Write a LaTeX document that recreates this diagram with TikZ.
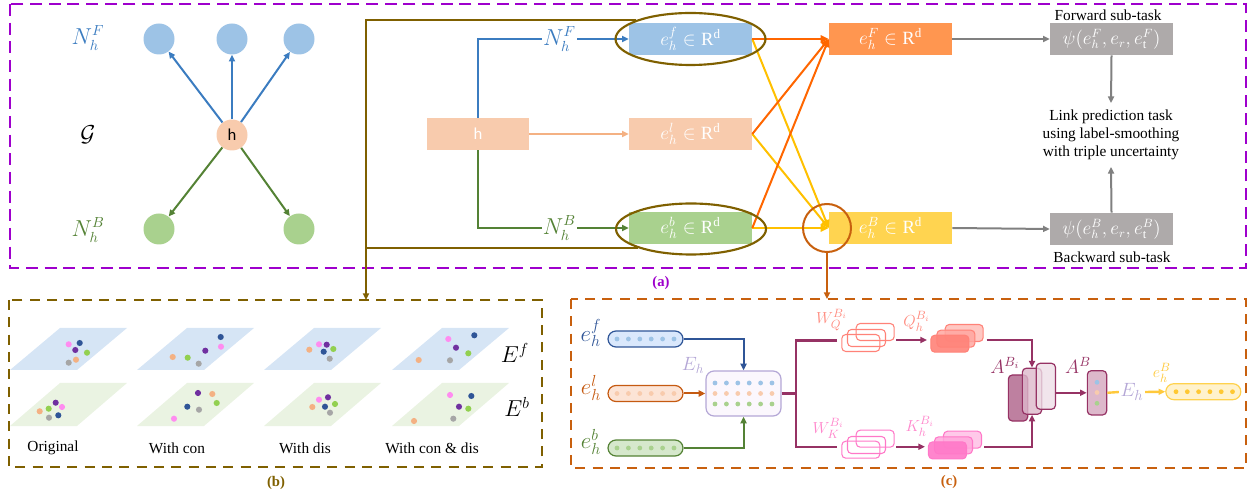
\documentclass[tikz,border=0pt]{standalone}
\usepackage{fontspec}
\setmainfont{Liberation Serif}
\newfontfamily\calib{Carlito}
\usetikzlibrary{arrows.meta,shapes.geometric}
\definecolor{purp}{RGB}{158,0,204}
\definecolor{brownD}{RGB}{127,96,0}
\definecolor{orgD}{RGB}{200,96,14}
\definecolor{blueA}{RGB}{59,124,192}
\definecolor{greenA}{RGB}{84,130,53}
\definecolor{cBlueL}{RGB}{157,195,230}
\definecolor{cGreenL}{RGB}{169,209,142}
\definecolor{cPeach}{RGB}{248,203,173}
\definecolor{peachA}{RGB}{244,177,131}
\definecolor{eFc}{RGB}{255,150,80}
\definecolor{eBc}{RGB}{255,212,80}
\definecolor{psic}{RGB}{174,170,170}
\definecolor{grayA}{RGB}{128,128,128}
\definecolor{orgL}{RGB}{255,102,0}
\definecolor{yelL}{RGB}{255,192,0}
\definecolor{planeF}{RGB}{214,229,245}
\definecolor{planeB}{RGB}{234,243,226}
\definecolor{pk}{RGB}{255,140,240}
\definecolor{db}{RGB}{47,85,151}
\definecolor{pu}{RGB}{112,48,160}
\definecolor{gn}{RGB}{146,208,80}
\definecolor{pe}{RGB}{244,177,131}
\definecolor{gy}{RGB}{166,166,166}
\definecolor{dBlue}{RGB}{47,85,151}
\definecolor{dOrg}{RGB}{197,90,17}
\definecolor{pBlue}{RGB}{218,232,252}
\definecolor{pOrg}{RGB}{252,228,214}
\definecolor{pGreen}{RGB}{214,232,204}
\definecolor{lav}{RGB}{180,167,214}
\definecolor{lavF}{RGB}{251,247,253}
\definecolor{plum}{RGB}{150,50,100}
\definecolor{salm}{RGB}{255,130,120}
\definecolor{salmL}{RGB}{255,140,128}
\definecolor{pinkK}{RGB}{255,120,200}
\definecolor{pinkL}{RGB}{255,136,204}
\definecolor{aDark}{RGB}{190,128,160}
\definecolor{aMid}{RGB}{221,184,203}
\definecolor{aLight}{RGB}{238,223,231}
\definecolor{yelT}{RGB}{255,201,60}
\definecolor{yelF}{RGB}{255,242,204}
\definecolor{yelB}{RGB}{255,210,77}
\definecolor{yelD}{RGB}{255,200,50}
\begin{document}
\begin{tikzpicture}[x=0.75pt,y=-0.75pt,
  arr/.style={-{Triangle[length=5pt,width=4.5pt]}},
  arrb/.style={-{Triangle[length=6pt,width=5.5pt]}},
  circ/.style={circle,minimum size=23.25pt,inner sep=0pt},
  ebox/.style={minimum width=92.25pt,minimum height=24pt,inner sep=0pt,text=white,font=\fontsize{14}{16}\selectfont},
  serif/.style={font=\fontsize{11.5}{13.5}\selectfont},
  pill/.style={rounded corners=6pt,minimum width=56.25pt,minimum height=12pt,inner sep=0pt,line width=0.9pt},
  wr/.style={rounded corners=3pt,minimum width=28.5pt,minimum height=12.75pt,inner sep=0pt,line width=0.8pt},
  ar/.style={rounded corners=3pt,minimum width=14.5pt,minimum height=34.5pt,inner sep=0pt,line width=0.9pt,draw=plum},
  mlab/.style={inner sep=1pt,font=\fontsize{16}{18}\selectfont},
  clab/.style={inner sep=1pt,font=\fontsize{13}{15}\selectfont},
]
\useasboundingbox (0,0) rectangle (1255,498);

% ---------- (a) frame ----------
\draw[purp,line width=2pt,dash pattern=on 9pt off 5pt] (10,4) rectangle (1246,268);
\node[text=purp,font=\bfseries\fontsize{11}{13}\selectfont] (la) at (661,283) {(a)};

% ---------- left graph ----------
\node[circ,fill=cBlueL] (f1) at (159,39) {};
\node[circ,fill=cBlueL] (f2) at (232,39) {};
\node[circ,fill=cBlueL] (f3) at (299,39) {};
\node[circ,fill=cGreenL] (b1) at (159,229) {};
\node[circ,fill=cGreenL] (b2) at (299,229) {};
\node[circ,fill=cPeach,font=\calib\fontsize{12.5}{14}\selectfont] (hc) at (232,135) {h};
\foreach \t in {f1,f2,f3} \draw[blueA,line width=1.5pt,arr] (hc) -- (\t);
\foreach \t in {b1,b2} \draw[greenA,line width=1.5pt,arr] (hc) -- (\t);
\node[mlab,text=blueA] (lNF) at (88,38) {$N_h^F$};
\node[mlab] (lG) at (88,135) {$\mathcal{G}$};
\node[mlab,text=greenA] (lNB) at (88,230) {$N_h^B$};

% ---------- middle ----------
\node[minimum width=76.5pt,minimum height=24pt,inner sep=0pt,fill=cPeach,text=white,font=\calib\fontsize{12.5}{14}\selectfont] (hb) at (478,134) {h};
\node[ebox,fill=cBlueL] (ef) at (690.5,39) {$e_h^f\in\mathrm{R}^{\mathrm{d}}$};
\node[ebox,fill=cPeach] (el) at (690.5,134) {$e_h^l\in\mathrm{R}^{\mathrm{d}}$};
\node[ebox,fill=cGreenL] (eb) at (690.5,228) {$e_h^b\in\mathrm{R}^{\mathrm{d}}$};
\draw[blueA,line width=1.5pt,arr] (hb.north) |- node[pos=0.77,fill=white,text=blueA,mlab] (mNF) {$N_h^F$} (ef.west);
\draw[greenA,line width=1.5pt,arr] (hb.south) |- node[pos=0.77,fill=white,text=greenA,mlab] (mNB) {$N_h^B$} (eb.west);
\draw[peachA,line width=1.5pt,arr] (hb.east) -- (el.west);

% ---------- right ----------
\node[ebox,fill=eFc] (eF) at (890.5,39) {$e_h^F\in\mathrm{R}^{\mathrm{d}}$};
\node[ebox,fill=eBc] (eB) at (890.5,228) {$e_h^B\in\mathrm{R}^{\mathrm{d}}$};
\foreach \s in {ef,el,eb} \draw[yelL,line width=1.5pt,arrb] (\s.east) -- (eB.west);
\foreach \s in {ef,el,eb} \draw[orgL,line width=1.5pt,arrb] (\s.east) -- (eF.west);

\node[ebox,fill=psic,font=\fontsize{13.5}{15}\selectfont] (psiF) at (1111.5,39) {$\psi(e_h^F,e_r,e_{\mathrm{t}}^F)$};
\node[ebox,fill=psic,font=\fontsize{13.5}{15}\selectfont] (psiB) at (1111.5,229) {$\psi(e_h^B,e_r,e_{\mathrm{t}}^B)$};
\draw[grayA,line width=1.5pt,arr] (eF.east) -- (psiF.west);
\draw[grayA,line width=1.5pt,arr] (eB.east) -- (psiB.west);
\node[serif,align=center,inner xsep=1pt,inner ysep=5pt] (lp) at (1111,135) {Link prediction task\\using label-smoothing\\with triple uncertainty};
\draw[grayA,line width=1.5pt,arr] (psiF.south) -- (lp.north);
\draw[grayA,line width=1.5pt,arr] (psiB.north) -- (lp.south);
\node[serif,inner sep=1pt] (fw) at (1108,15) {Forward sub-task};
\node[serif,inner sep=1pt] (bw) at (1112,257) {Backward sub-task};

% ellipses and brown frame
\node[ellipse,draw=brownD,line width=1.6pt,minimum width=112.5pt,minimum height=39pt,inner sep=0pt] (ellF) at (690.5,39) {};
\node[ellipse,draw=brownD,line width=1.6pt,minimum width=112.5pt,minimum height=38.25pt,inner sep=0pt] (ellB) at (691,229) {};
\coordinate (bTop) at (366,300);
\draw[brownD,line width=1.6pt,arr] (ellF.161.6) -| (bTop);
\draw[brownD,line width=1.6pt] (ellB.200.8) -- (ellB.200.8 -| bTop);

% orange circle
\node[circle,draw=orgD,line width=1.5pt,minimum size=36pt,inner sep=0pt] (oc) at (827,228) {};
\coordinate (cTop) at (827,299);
\draw[orgD,line width=1.5pt,arr] (oc.south) -- (cTop);

% ---------- (b) ----------
\draw[brownD,line width=1.8pt,dash pattern=on 7.5pt off 5.5pt] (9,300) rectangle (542,467);
\node[text=brownD,font=\bfseries\fontsize{11}{13}\selectfont] (lb) at (276,483) {(b)};
\foreach \bx in {10,137,264,392} {
  \fill[planeF] (\bx,370) -- (\bx+67,370) -- (\bx+117,328) -- (\bx+50,328) -- cycle;
  \fill[planeB] (\bx,426) -- (\bx+67,426) -- (\bx+117,383) -- (\bx+50,383) -- cycle;
}
\foreach \x/\y/\c in {68.7/344.3/pk, 79.7/343/db, 75.3/350/pu, 87/352.7/gn, 76/359.7/pe, 68.7/362.7/gy,
  220.7/337/db, 221/346.7/pk, 205.3/350.7/pu, 187.7/357.7/gn, 172.7/357/pe, 198.7/363.7/gy,
  319/344.3/pk, 326.7/344.7/pu, 323.7/351.7/db, 333.3/349/gn, 309.3/349.7/pe, 329.7/358.7/gy,
  448.3/339/pk, 474.3/335.3/db, 456/347.7/pu, 468.3/353.3/gn, 418.7/360/pe, 450/360.3/gy,
  55.7/402.7/pu, 62/407/pk, 48.7/408.7/gn, 39.7/411.3/pe, 58.3/415.3/db, 49/417.7/gy,
  198/393/pu, 212.3/394/pe, 216.7/403/gn, 187.3/406.7/db, 199/409.7/gy, 174/418.7/pk,
  319/399.7/pk, 328/397.3/pu, 335/404/gn, 325/406.7/db, 312.3/407/pe, 330/412.7/gy,
  450/395/pk, 471.3/396/db, 459/406.7/pu, 468.3/408.7/gn, 414/421/pe, 453.3/418.7/gy}
  \fill[\c] (\x,\y) circle[radius=2.3pt];
\node[font=\fontsize{18}{20}\selectfont] (Ef) at (515,353) {$E^f$};
\node[font=\fontsize{18}{20}\selectfont] (Eb) at (517,407) {$E^b$};
\node[serif] (t1) at (53,448) {Original};
\node[serif] (t2) at (177,448) {With con};
\node[serif] (t3) at (305,448) {With dis};
\node[serif] (t4) at (432,448) {With con \& dis};

% ---------- (c) ----------
\draw[orgD,line width=1.8pt,dash pattern=on 7.5pt off 5.5pt] (571,299) rectangle (1246,468);
\node[text=orgD,font=\bfseries\fontsize{11}{13}\selectfont] (lc) at (949,482) {(c)};

\node[pill,draw=dBlue,fill=pBlue] (p1) at (645.5,339) {};
\node[pill,draw=dOrg,fill=pOrg] (p2) at (645.5,393.5) {};
\node[pill,draw=greenA,fill=pGreen] (p3) at (645.5,448) {};
\foreach \i in {0,...,5} {
  \fill[cBlueL] (617+11.4*\i,339) circle[radius=1.8pt];
  \fill[cPeach] (617+11.4*\i,393.5) circle[radius=1.8pt];
  \fill[cGreenL] (617+11.4*\i,448) circle[radius=1.8pt];
}
\node[font=\fontsize{17}{19}\selectfont,text=dBlue,inner sep=1pt] (le1) at (591,333) {$e_h^f$};
\node[font=\fontsize{17}{19}\selectfont,text=dOrg,inner sep=1pt] (le2) at (591,388) {$e_h^l$};
\node[font=\fontsize{17}{19}\selectfont,text=greenA,inner sep=1pt] (le3) at (591,442) {$e_h^b$};

\node[draw=lav,fill=lavF,rounded corners=6pt,minimum width=56.25pt,minimum height=33.75pt,inner sep=0pt,line width=0.9pt] (Eh) at (743.5,393.5) {};
\foreach \i in {0,...,5} {
  \fill[cBlueL] (715+11.4*\i,383) circle[radius=1.8pt];
  \fill[cPeach] (715+11.4*\i,393.5) circle[radius=1.8pt];
  \fill[cGreenL] (715+11.4*\i,404) circle[radius=1.8pt];
}
\node[clab,text=lav,font=\fontsize{14}{16}\selectfont] (lEh) at (693,365) {$E_h$};
\draw[dBlue,line width=1.5pt,arr] (p1.east) -| (Eh.north);
\draw[dOrg,line width=1.5pt,arr] (p2.east) -- (Eh.west);
\draw[greenA,line width=1.5pt,arr] (p3.east) -| (Eh.south);

\coordinate (jn) at (796,393.5);
\coordinate (wqi) at (837,340.5);
\coordinate (wki) at (837,446.7);
\draw[plum,line width=1.8pt] (Eh.east) -- (jn);
\draw[plum,line width=1.8pt] (wqi) -| (jn) |- (wki);

% W_Q and W_K stacks
\node[wr,draw=salm] (wq3) at (875.2,332) {};
\node[wr,draw=salm] (wq2) at (866.5,338) {};
\node[wr,draw=salm] (wq1) at (860.8,343) {};
\node[wr,draw=pinkK] (wk3) at (875.2,438.7) {};
\node[wr,draw=pinkK] (wk2) at (866.5,445) {};
\node[wr,draw=pinkK] (wk1) at (860.8,449.7) {};
\node[clab,text=salmL] (lwq) at (831.7,320) {$W_Q^{B_i}$};
\node[clab,text=pinkL] (lwk) at (828.3,428.3) {$W_K^{B_i}$};

% Q and K stacks
\node[wr,draw=salm,fill=salm!45!white] (q3) at (964.2,333) {};
\node[wr,draw=salm,fill=salm!70!white,fill opacity=0.85] (q2) at (955.9,338.7) {};
\node[wr,draw=salm,fill=salm,fill opacity=0.9] (q1) at (949.9,343.7) {};
\node[wr,draw=pinkK,fill=pinkK!40!white] (k3) at (962.5,439.7) {};
\node[wr,draw=pinkK,fill=pinkK!65!white,fill opacity=0.85] (k2) at (953.5,445.4) {};
\node[wr,draw=pinkK,fill=pinkK,fill opacity=0.9] (k1) at (947.5,450.4) {};
\node[clab,text=salmL] (lq) at (916.7,321.7) {$Q_h^{B_i}$};
\node[clab,text=pinkL] (lk) at (920,426.7) {$K_h^{B_i}$};
\coordinate (wqo) at (896,340);
\coordinate (qin) at (927,340);
\coordinate (wko) at (896,446.7);
\coordinate (kin) at (925,446.7);
\draw[plum,line width=1.8pt,arr] (wqo) -- (qin);
\draw[plum,line width=1.8pt,arr] (wko) -- (kin);

% A stack
\node[ar,fill=aDark] (Al) at (1018,398) {};
\node[ar,fill=aMid,fill opacity=0.8] (Am) at (1032,391.2) {};
\node[ar,fill=aLight,fill opacity=0.8] (Ar) at (1045.8,386.3) {};
\coordinate (qo) at (986.7,340);
\coordinate (ko) at (984,446.7);
\draw[plum,line width=1.8pt,arr] (qo) -| (Am.north);
\draw[plum,line width=1.8pt,arr] (ko) -| (Am.south);
\node[clab,text=plum,font=\fontsize{14}{16}\selectfont] (lA) at (1005,365) {$A^{B_i}$};

\node[ar,fill=aMid,minimum height=33.2pt] (AB) at (1097,392.8) {};
\fill[cBlueL] (1097,382.3) circle[radius=1.8pt];
\fill[cPeach] (1097,392.5) circle[radius=1.8pt];
\fill[cGreenL] (1097,403.3) circle[radius=1.8pt];
\node[clab,text=plum,font=\fontsize{14}{16}\selectfont] (lAB) at (1078,365) {$A^B$};
\draw[plum,line width=1.8pt,arr] (Ar.east |- AB.west) -- (AB.west);

\node[clab,text=lav,font=\fontsize{15}{17}\selectfont] (EhL) at (1132,392) {$E_h$};
\node[pill,draw=yelB,fill=yelF] (yp) at (1203.3,391.7) {};
\foreach \i in {0,...,5} \fill[yelD] (1176+11.3*\i,391.7) circle[radius=1.8pt];
\draw[yelT,line width=1.8pt] (AB.east) -- (EhL.west);
\draw[yelT,line width=1.8pt,arr] (EhL.east) -- (yp.west);
\node[clab,text=yelT] (leB) at (1161.7,373) {$e_h^B$};
\end{tikzpicture}
\end{document}
